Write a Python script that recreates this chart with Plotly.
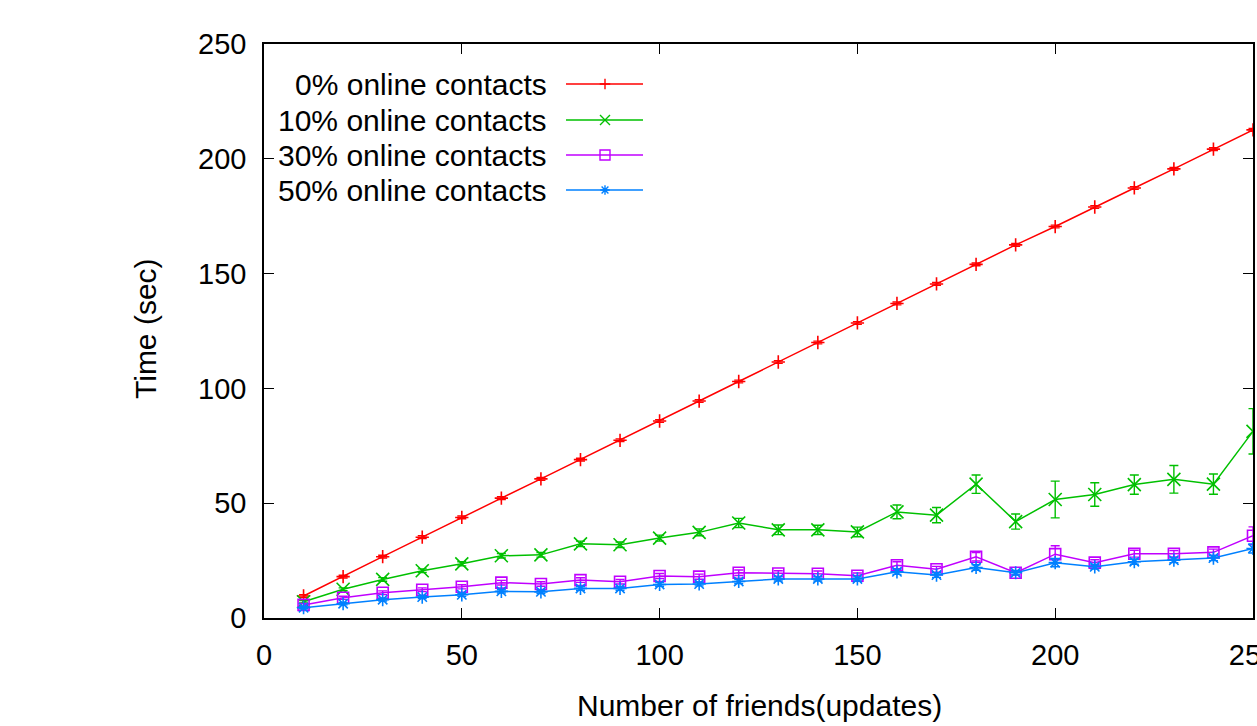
import plotly.graph_objects as go

# Number of friends (updates) on the x axis
friends = [10, 20, 30, 40, 50, 60, 70, 80, 90, 100, 110, 120, 130, 140, 150,
           160, 170, 180, 190, 200, 210, 220, 230, 240, 250]

# Mean time in seconds for each share of online contacts
time_0 = [9.6, 18.0, 26.7, 35.2, 43.8, 52.2, 60.6, 69.0, 77.4, 85.8, 94.5, 103.0,
          111.5, 120.0, 128.5, 137.0, 145.5, 154.0, 162.5, 170.5, 179.0, 187.3,
          195.6, 204.2, 212.6]
time_10 = [7.1, 12.5, 16.8, 20.6, 23.6, 27.1, 27.5, 32.3, 31.9, 34.8, 37.3, 41.4,
           38.4, 38.4, 37.5, 46.2, 44.8, 58.3, 42.0, 51.6, 53.8, 58.1, 60.4, 58.3, 81.3]
time_30 = [5.7, 8.8, 11.0, 12.3, 13.6, 15.4, 14.8, 16.5, 15.8, 18.3, 18.0, 19.7,
           19.4, 19.3, 18.4, 23.0, 21.2, 26.7, 19.7, 27.8, 24.1, 28.0, 28.0, 28.6, 35.8]
time_50 = [4.5, 6.2, 8.0, 9.1, 10.1, 11.6, 11.4, 12.9, 12.9, 14.6, 14.8, 15.9,
           17.0, 17.0, 17.0, 20.1, 18.7, 22.0, 19.7, 24.1, 22.3, 24.5, 25.2, 26.1, 30.3]

# Standard deviations (error bars)
err_0 = [0.6] * 25
err_10 = [0.5, 0.6, 0.8, 0.8, 0.9, 1.0, 1.0, 1.2, 1.2, 1.3, 1.5, 2.0, 2.1, 2.0,
          2.1, 3.0, 3.3, 4.0, 3.3, 8.0, 5.1, 4.2, 6.0, 4.4, 9.9]
err_30 = [0.6, 0.7, 0.8, 0.8, 0.9, 1.0, 1.0, 1.0, 1.0, 1.1, 1.1, 1.2, 1.2, 1.2,
          1.2, 1.5, 1.3, 1.8, 1.0, 3.7, 1.3, 1.5, 1.4, 1.4, 3.9]
err_50 = [0.5, 0.5, 0.6, 0.6, 0.7, 0.7, 0.7, 0.8, 0.8, 0.8, 0.8, 0.9, 0.9, 0.9,
          0.9, 1.1, 1.0, 1.2, 0.9, 1.8, 1.0, 1.1, 1.1, 1.1, 2.0]

series_names = ["0% online contacts", "10% online contacts",
                "30% online contacts", "50% online contacts"]
series_y = [time_0, time_10, time_30, time_50]
series_err = [err_0, err_10, err_30, err_50]
colors = ["#ff0000", "#00c000", "#c000ff", "#0080ff"]
symbols = ["cross-thin-open", "x-thin-open", "square-open", "asterisk-open"]
sizes = [9.5, 13, 11, 11]
legend_sizes = [7.5, 10, 10, 8]

tick_vals = [0, 50, 100, 150, 200, 250]

FONT = "Liberation Sans, Arial, Helvetica, sans-serif"
FS = 29
FS_TEXT = 30
W, H = 1257, 726
L, R, T, B = 264, 4, 44, 108
PW, PH = W - L - R, H - T - B


def px_x(px):
    return (px - L) / PW


def px_y(py):
    return (H - B - py) / PH


fig = go.Figure()

for name, y, e, c, s, sz in zip(series_names, series_y, series_err, colors, symbols, sizes):
    fig.add_trace(go.Scatter(
        x=friends, y=y, name=name, mode="lines+markers",
        line=dict(color=c, width=1.5),
        marker=dict(symbol=s, size=sz, color=c, line=dict(color=c, width=1.6)),
        error_y=dict(type="data", array=e, visible=True, color=c, thickness=1.4, width=4.5),
        showlegend=False,
    ))

# Key in the upper-left corner: right-aligned labels with line samples
row_y = [84, 120, 155, 190]
annotations = []
shapes = []
for name, c, s, lsz, ry in zip(series_names, colors, symbols, legend_sizes, row_y):
    annotations.append(dict(
        x=px_x(549), y=px_y(ry), xref="paper", yref="paper",
        text=name, showarrow=False, xanchor="right", yanchor="middle",
        font=dict(family=FONT, size=FS_TEXT, color="black"),
    ))
    shapes.append(dict(
        type="line", xref="paper", yref="paper",
        x0=px_x(566), x1=px_x(643), y0=px_y(ry), y1=px_y(ry),
        line=dict(color=c, width=1.5),
    ))
    fig.add_trace(go.Scatter(
        x=[px_x(605)], y=[px_y(ry)], xaxis="x2", yaxis="y2", mode="markers",
        marker=dict(symbol=s, size=lsz, color=c, line=dict(color=c, width=1.4)),
        showlegend=False, hoverinfo="skip",
    ))

# Axis titles
annotations.append(dict(
    x=px_x(759), y=px_y(705), xref="paper", yref="paper",
    text="Number of friends(updates)", showarrow=False,
    xanchor="center", yanchor="middle",
    font=dict(family=FONT, size=FS_TEXT, color="black"),
))
annotations.append(dict(
    x=px_x(145), y=px_y(329), xref="paper", yref="paper",
    text="Time (sec)", showarrow=False, textangle=-90,
    xanchor="center", yanchor="middle",
    font=dict(family=FONT, size=FS_TEXT, color="black"),
))

axis_common = dict(
    showgrid=False, zeroline=False, showline=True, linecolor="black", linewidth=1.5,
    mirror="ticks", ticks="inside", ticklen=10, tickwidth=1.2, tickcolor="black",
    tickvals=tick_vals, tickfont=dict(family=FONT, size=FS, color="black"),
    ticklabeloverflow="allow", automargin=False,
)

fig.update_layout(
    width=W, height=H,
    margin=dict(l=L, r=R, t=T, b=B, autoexpand=False),
    paper_bgcolor="white", plot_bgcolor="white",
    xaxis=dict(range=[0, 250], ticklabelstandoff=10, **axis_common),
    yaxis=dict(range=[0, 250], ticklabelstandoff=10, **axis_common),
    xaxis2=dict(range=[0, 1], overlaying="x", visible=False, anchor="y2"),
    yaxis2=dict(range=[0, 1], overlaying="y", visible=False, anchor="x2"),
    annotations=annotations,
    shapes=shapes,
    showlegend=False,
)

fig.write_html("out.html")
